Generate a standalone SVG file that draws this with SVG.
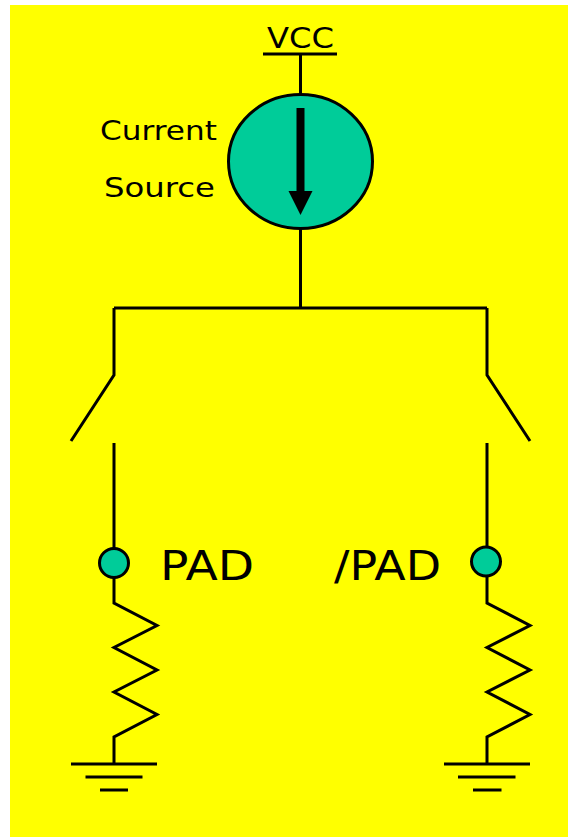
<svg xmlns="http://www.w3.org/2000/svg" width="568" height="837" viewBox="0 0 568 837">
<style>
.w{fill:none;stroke:#000;stroke-width:3}
.f{fill:#00cc99;stroke:#000;stroke-width:3}
text{font-family:"DejaVu Sans",Verdana,sans-serif;fill:#000}
</style>
<rect x="10" y="5" width="558" height="832" fill="#ffff00"/>
<g id="connectors">
<path class="w" d="M300.5 54V94M300.5 229V308M114 308H487"/>
<path class="w" d="M114 308V375L71 441M487 308V375L530 441"/>
<path class="w" d="M114 443V549M487 443V547"/>
<path class="w" d="M114 577V603L157 625.500L114 647.500L157 670L114 692L157 714.500L114 737V764"/>
<path class="w" d="M487 576V603L530 625.500L487 647.500L530 670L487 692L530 714.500L487 737V764"/>
</g>
<g id="vcc">
<path class="w" d="M263 54H337"/>
<text x="267" y="48" font-size="28" textLength="67" lengthAdjust="spacingAndGlyphs">VCC</text>
</g>
<g id="current-source">
<ellipse class="f" cx="300.500" cy="161.500" rx="72" ry="67"/>
<path d="M296.500 108H304.500V191H312.500L300.500 215L288.500 191H296.500Z" fill="#000"/>
<text x="100" y="140" font-size="27" textLength="117" lengthAdjust="spacingAndGlyphs">Current</text>
<text x="104" y="197" font-size="27" textLength="111" lengthAdjust="spacingAndGlyphs">Source</text>
</g>
<g id="pad">
<circle class="f" cx="114" cy="563" r="14.500"/>
<text x="160" y="580" font-size="41" textLength="94" lengthAdjust="spacingAndGlyphs">PAD</text>
</g>
<g id="npad">
<circle class="f" cx="486" cy="561.500" r="14.500"/>
<text x="334" y="580" font-size="41" textLength="107" lengthAdjust="spacingAndGlyphs">/PAD</text>
</g>
<g id="gnd-left">
<path class="w" d="M71 764H157M85.500 777H142.500M100 790H128"/>
</g>
<g id="gnd-right">
<path class="w" d="M444 764H530M458 777H515.500M473 790H501.500"/>
</g>
</svg>
